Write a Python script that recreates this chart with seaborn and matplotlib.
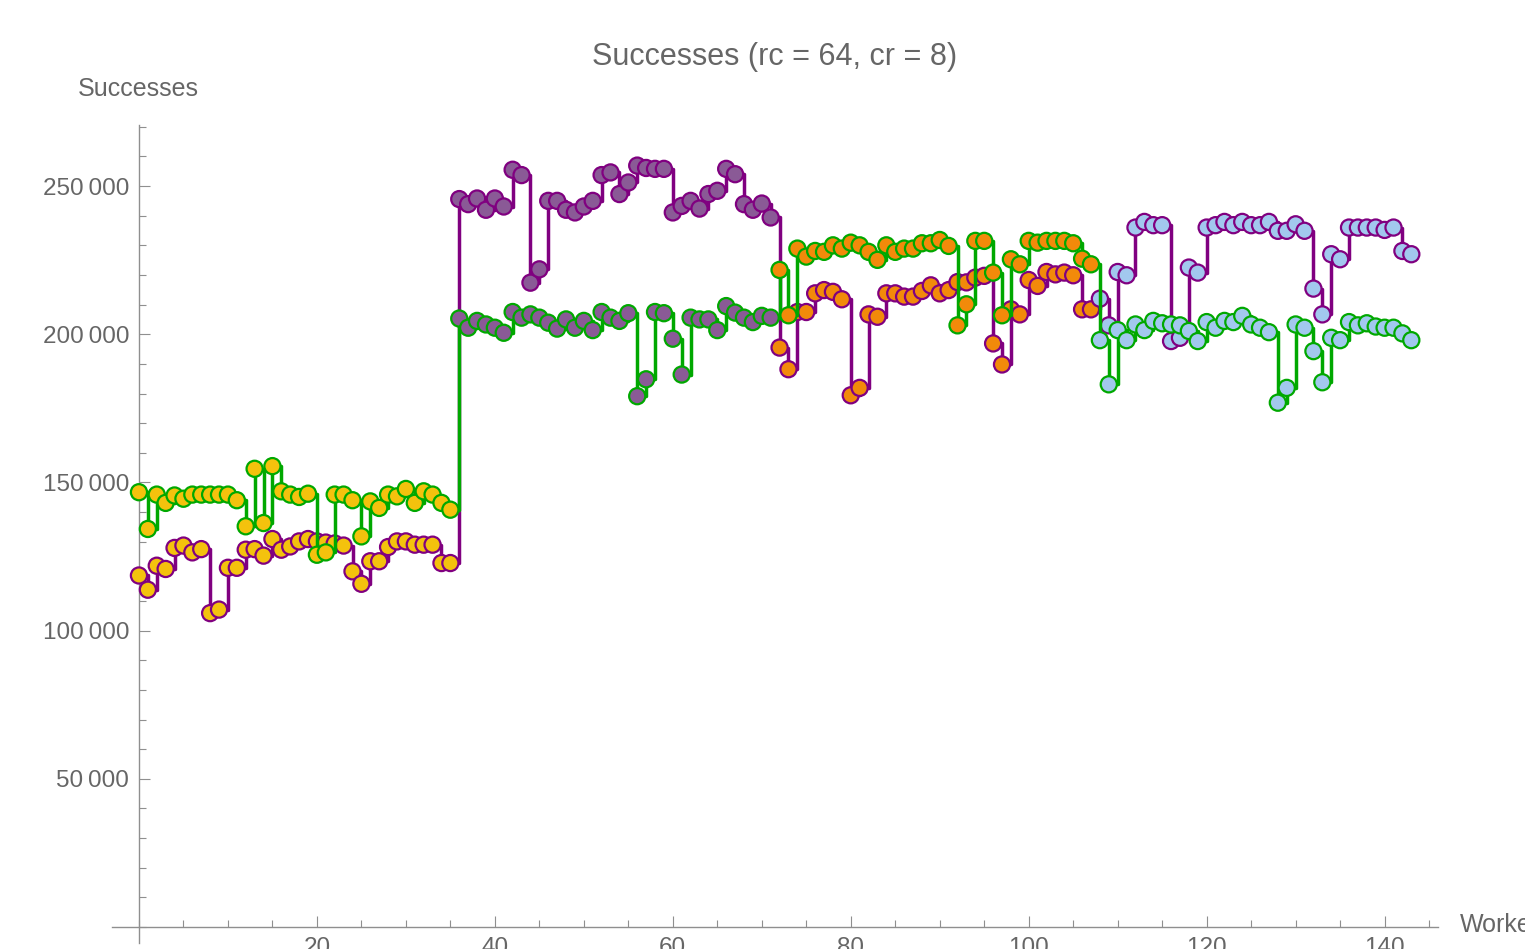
import numpy as np
import pandas as pd
import matplotlib
matplotlib.use("Agg")
import matplotlib.pyplot as plt
import seaborn as sns
from matplotlib.ticker import FixedLocator, MultipleLocator, FuncFormatter

sns.set_theme(style="white")
plt.rcParams["font.family"] = ["Liberation Sans", "DejaVu Sans"]

# Successes per worker index, two runs
run_purple = [
    # workers 0-35
    118600, 113800, 121900, 120800, 127900, 128700, 126400, 127500, 105900, 107100,
    121200, 121200, 127300, 127500, 125300, 130900, 127300, 128400, 130100, 130900,
    130100, 129700, 129400, 128700, 120000, 115800, 123400, 123400, 128200, 130100,
    130100, 129000, 129000, 129000, 122800, 122800,
    # workers 36-71
    245600, 243900, 245800, 242000, 245800, 243100, 255500, 253700, 217400, 221900,
    245000, 245000, 242000, 241100, 243100, 245000, 253700, 254600, 247300, 251200,
    256900, 256100, 255800, 255800, 241100, 243300, 245000, 242400, 247300, 248400,
    255800, 254000, 243900, 242000, 244100, 239400,
    # workers 72-107
    195500, 188200, 207500, 207500, 213800, 214900, 214300, 211800, 179400, 181900,
    206700, 205900, 213800, 213800, 212700, 212700, 214600, 216500, 213800, 214900,
    217600, 217500, 219100, 219700, 196900, 189800, 208400, 206700, 218300, 216300,
    221000, 220200, 220800, 219900, 208400, 208400,
    # workers 108-143
    212000, 203000, 221000, 219900, 236000, 237900, 236800, 236800, 197700, 198800,
    222500, 220800, 236000, 236800, 237900, 236800, 237900, 236800, 236800, 237900,
    234900, 234900, 237100, 234900, 215400, 206700, 227000, 225300, 236000, 236000,
    236000, 236000, 235200, 236000, 228100, 227000,
]

run_green = [
    # workers 0-35
    146700, 134300, 145900, 143100, 145600, 144500, 145900, 145900, 145900, 145900,
    145900, 144000, 135200, 154600, 136300, 155500, 147000, 145900, 145100, 146200,
    125600, 126400, 145900, 145900, 144000, 131800, 143600, 141400, 145900, 145300,
    147800, 143100, 147000, 145900, 143100, 140800,
    # workers 36-71
    205300, 202200, 204500, 203300, 202200, 200500, 207500, 205600, 206700, 205600,
    203900, 201900, 205000, 202200, 204500, 201400, 207500, 205600, 204500, 207100,
    179100, 184800, 207500, 207100, 198500, 186400, 205600, 205000, 205000, 201400,
    209500, 207300, 205600, 204100, 206200, 205600,
    # workers 72-107
    221700, 206400, 228900, 226200, 228100, 227800, 230000, 228900, 230900, 230000,
    227800, 225100, 230000, 227800, 228900, 228900, 230700, 230700, 231800, 229800,
    203000, 210100, 231500, 231500, 220800, 206400, 225300, 223600, 231500, 230900,
    231500, 231500, 231500, 230700, 225500, 223600,
    # workers 108-143
    198000, 183100, 201400, 198000, 203300, 201400, 204500, 203700, 203300, 203000,
    201100, 197700, 204100, 202200, 204500, 204100, 206200, 203300, 202200, 200700,
    176900, 181900, 203300, 202200, 194300, 183800, 198800, 198000, 204100, 203000,
    203700, 202600, 202200, 202200, 200300, 198000,
]

block_size = 36
block_names = ["block 1", "block 2", "block 3", "block 4"]
block_fill = ["#F4C20D", "#8A5A96", "#F28A0A", "#A2C8EE"]
run_colors = ["#800080", "#00A800"]

x_major = [20, 40, 60, 80, 100, 120, 140]
y_major = [50000, 100000, 150000, 200000, 250000]

workers = np.arange(len(run_purple))
block = [block_names[i // block_size] for i in workers]

df = pd.concat([
    pd.DataFrame({"worker": workers, "successes": run_purple, "run": "purple", "block": block}),
    pd.DataFrame({"worker": workers, "successes": run_green, "run": "green", "block": block}),
], ignore_index=True)

fig = plt.figure(figsize=(15.25, 9.49), dpi=100)
W, H = 1525, 949
ax = fig.add_axes([112 / W, 1 - 943 / H, (1438 - 112) / W, (943 - 125) / H])

palette = dict(zip(block_names, block_fill))
for k, (run, lc) in enumerate(zip(["purple", "green"], run_colors)):
    d = df[df["run"] == run]
    sns.lineplot(data=d, x="worker", y="successes", drawstyle="steps-post",
                 color=lc, linewidth=2.5, estimator=None, ax=ax,
                 zorder=2 + 2 * k, legend=False)
    sns.scatterplot(data=d, x="worker", y="successes", hue="block", palette=palette,
                    edgecolor=lc, linewidth=1.6, s=135, ax=ax,
                    zorder=3 + 2 * k, legend=False)

ax.set_xlim(-3.03, 146.0)
ax.set_ylim(-5400, 270600)

axis_gray = "#8f8f8f"
text_gray = "#666666"
for side in ["top", "right"]:
    ax.spines[side].set_visible(False)
ax.spines["left"].set_position(("data", 0))
ax.spines["bottom"].set_position(("data", 0))
for side in ["left", "bottom"]:
    ax.spines[side].set_color(axis_gray)
    ax.spines[side].set_linewidth(1.0)

ax.xaxis.set_major_locator(FixedLocator(x_major))
ax.xaxis.set_minor_locator(MultipleLocator(5))
ax.yaxis.set_major_locator(FixedLocator(y_major))
ax.yaxis.set_minor_locator(MultipleLocator(10000))
ax.yaxis.set_major_formatter(FuncFormatter(lambda v, p: f"{int(v):,}".replace(",", "\u2009")))
ax.xaxis.set_major_formatter(FuncFormatter(lambda v, p: f"{int(v)}"))

ax.tick_params(axis="both", which="both", left=True, bottom=True, top=False, right=False)
ax.tick_params(axis="both", which="major", direction="in", length=7.7, width=0.8,
               color=axis_gray, labelcolor=text_gray, labelsize=17.5)
ax.tick_params(axis="both", which="minor", direction="in", length=4.7, width=0.8,
               color=axis_gray)
ax.tick_params(axis="x", which="major", pad=7)
ax.tick_params(axis="y", which="major", pad=7)
ax.set_xlabel("")
ax.set_ylabel("")
ax.grid(False)

fig.text(775 / W, 1 - 57 / H, "Successes (rc = 64, cr = 8)", ha="center", va="center",
         fontsize=22, color=text_gray)
fig.text(138.5 / W, 1 - 89 / H, "Successes", ha="center", va="center",
         fontsize=18, color=text_gray)
fig.text(1460 / W, 1 - 925 / H, "Workers", ha="left", va="center",
         fontsize=18, color=text_gray)

fig.savefig("out.png", dpi=100)
